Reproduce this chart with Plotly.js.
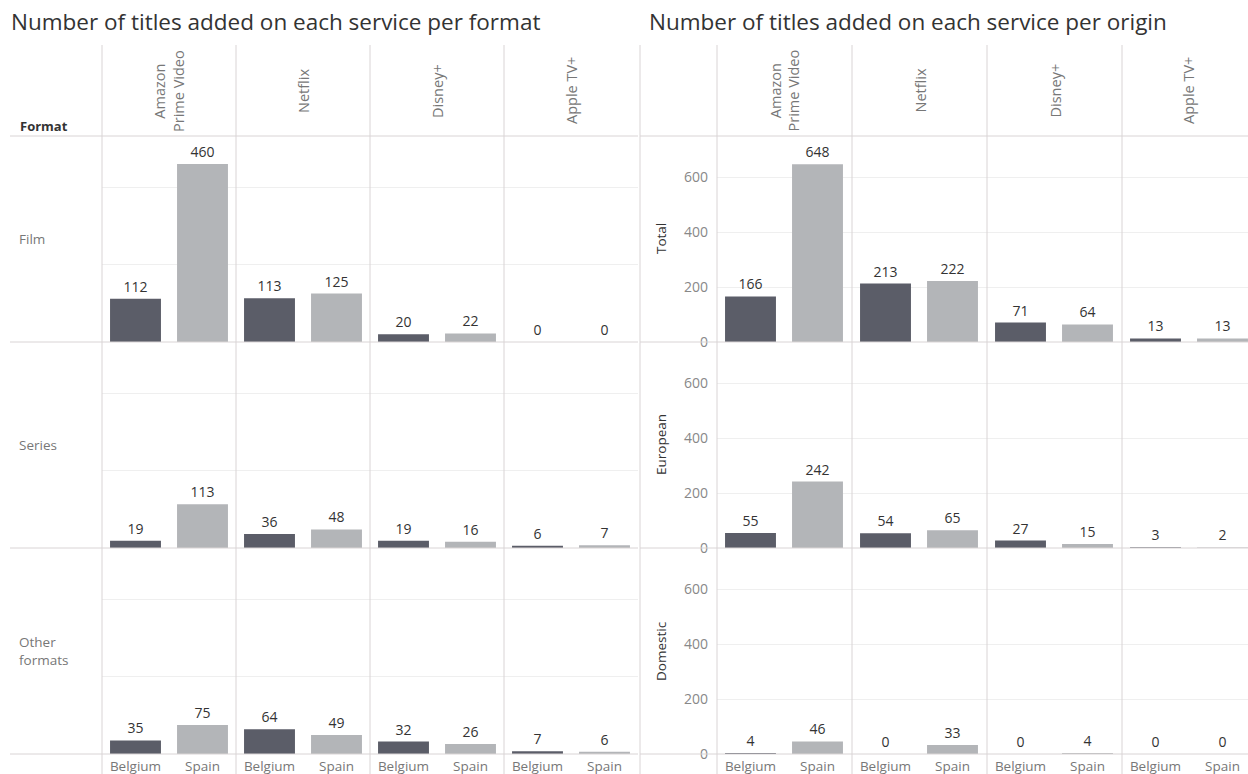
<!DOCTYPE html>
<html>
<head>
<meta charset="utf-8">
<script src="https://cdn.plot.ly/plotly-3.0.1.min.js"></script>
<style>html,body{margin:0;padding:0;background:#fff}#chart{width:1248px;height:774px}</style>
</head>
<body>
<div id="chart"></div>
<script>
// ---- data ----
const services = ['Amazon<br>Prime Video', 'Netflix', 'Disney+', 'Apple TV+'];
const countries = ['Belgium', 'Spain'];

const formatRows = ['Film', 'Series', 'Other<br>formats'];
const filmBelgium = [112, 113, 20, 0];
const filmSpain = [460, 125, 22, 0];
const seriesBelgium = [19, 36, 19, 6];
const seriesSpain = [113, 48, 16, 7];
const otherBelgium = [35, 64, 32, 7];
const otherSpain = [75, 49, 26, 6];

const originRows = ['Total', 'European', 'Domestic'];
const totalBelgium = [166, 213, 71, 13];
const totalSpain = [648, 222, 64, 13];
const europeanBelgium = [55, 54, 27, 3];
const europeanSpain = [242, 65, 15, 2];
const domesticBelgium = [4, 0, 0, 0];
const domesticSpain = [46, 33, 4, 0];

const titleLeft = 'Number of titles added on each service per format';
const titleRight = 'Number of titles added on each service per origin';
const formatHeader = 'Format';

// ---- layout helpers ----
const W = 1248, H = 774;
const fx = x => x / W;
const fy = y => 1 - y / H;
const DARK = '#5b5d68', LIGHT = '#b3b5b8';
const FONT = '"Open Sans", "Noto Sans", sans-serif';
const GRID = '#efefef', LINE = '#d9d4d5';

const panels = [
  {cols: [102, 236, 370, 504, 638], rows: [136, 342, 548, 754], ymax: 532,
   labels: formatRows, belgium: [filmBelgium, seriesBelgium, otherBelgium], spain: [filmSpain, seriesSpain, otherSpain], ticks: false},
  {cols: [717, 852, 987, 1122, 1248], rows: [136, 342, 548, 754], ymax: 751,
   labels: originRows, belgium: [totalBelgium, europeanBelgium, domesticBelgium], spain: [totalSpain, europeanSpain, domesticSpain], ticks: true}
];

const traces = [];
const layout = {
  width: W, height: H,
  margin: {l: 0, r: 0, t: 0, b: 0},
  paper_bgcolor: '#fff', plot_bgcolor: 'rgba(0,0,0,0)',
  showlegend: false,
  font: {family: FONT, color: '#555'},
  annotations: [], shapes: [],
  bargap: 0.24
};

let k = 0;
panels.forEach((p, pi) => {
  for (let r = 0; r < 3; r++) {
    for (let c = 0; c < 4; c++) {
      k++;
      const xa = 'xaxis' + k, ya = 'yaxis' + k;
      const x0 = p.cols[c], x1 = p.cols[c + 1];
      const y0 = p.rows[r], y1 = p.rows[r + 1];
      const vals = [p.belgium[r][c], p.spain[r][c]];
      traces.push({
        type: 'bar', x: countries, y: vals,
        xaxis: 'x' + k, yaxis: 'y' + k,
        marker: {color: [DARK, LIGHT]},
        text: vals.map(String), textposition: 'outside',
        textfont: {family: FONT, size: 14, color: '#333'},
        constraintext: 'none', cliponaxis: false,
        hoverinfo: 'x+y'
      });
      layout[xa] = {
        domain: [fx(x0), fx(x1)], anchor: 'y' + k,
        type: 'category', range: [-0.5, -0.5 + (x1 - x0) / 67],
        showgrid: false, zeroline: false, showline: false, ticks: '',
        showticklabels: r === 2, ticklabelstandoff: 2,
        tickfont: {family: FONT, size: 13.5, color: '#777'}
      };
      layout[ya] = {
        domain: [fy(y1), fy(y0)], anchor: 'x' + k,
        range: [0, p.ymax], tick0: 0, dtick: 200,
        showgrid: true, gridcolor: GRID, gridwidth: 1,
        zeroline: false, showline: false, ticks: '',
        showticklabels: p.ticks && c === 0,
        ticklabelstandoff: 8,
        tickfont: {family: FONT, size: 14, color: '#888'}
      };
    }
    // row labels
    const yc = (p.rows[r] + p.rows[r + 1]) / 2;
    if (pi === 0) {
      layout.annotations.push({xref: 'paper', yref: 'paper', x: fx(17), y: fy(yc), xanchor: 'left', yanchor: 'middle',
        text: p.labels[r], showarrow: false, align: 'left', font: {family: FONT, size: 13.5, color: '#777'}});
    } else {
      layout.annotations.push({xref: 'paper', yref: 'paper', x: fx(661), y: fy(yc), xanchor: 'center', yanchor: 'middle',
        text: p.labels[r], textangle: -90, showarrow: false, font: {family: FONT, size: 13.5, color: '#333'}});
    }
  }
  // column headers
  for (let c = 0; c < 4; c++) {
    const xc = (p.cols[c] + p.cols[c + 1]) / 2 + (pi === 1 && c === 3 ? 3 : 0);
    layout.annotations.push({xref: 'paper', yref: 'paper', x: fx(xc), y: fy(91), xanchor: 'center', yanchor: 'middle',
      text: services[c], textangle: -90, showarrow: false, align: 'center',
      font: {family: FONT, size: 14.5, color: '#777'}});
  }
  // horizontal row separators
  const hx0 = pi === 0 ? 10 : 640, hx1 = pi === 0 ? 638 : 1248;
  p.rows.forEach(y => layout.shapes.push({type: 'line', xref: 'paper', yref: 'paper',
    x0: fx(hx0), x1: fx(hx1), y0: fy(y), y1: fy(y), line: {color: LINE, width: 1}}));
  // vertical column separators
  const vx = pi === 0 ? p.cols.slice(0, 4) : [640].concat(p.cols.slice(0, 4));
  vx.forEach(x => layout.shapes.push({type: 'line', xref: 'paper', yref: 'paper',
    x0: fx(x), x1: fx(x), y0: fy(45), y1: fy(774), line: {color: LINE, width: 1}}));
});

// titles and header
layout.annotations.push({xref: 'paper', yref: 'paper', x: fx(9), y: fy(22), xanchor: 'left', yanchor: 'middle',
  text: titleLeft, showarrow: false, font: {family: FONT, size: 22.5, color: '#333'}});
layout.annotations.push({xref: 'paper', yref: 'paper', x: fx(647), y: fy(22), xanchor: 'left', yanchor: 'middle',
  text: titleRight, showarrow: false, font: {family: FONT, size: 22.5, color: '#333'}});
layout.annotations.push({xref: 'paper', yref: 'paper', x: fx(18), y: fy(126), xanchor: 'left', yanchor: 'middle',
  text: '<b>' + formatHeader + '</b>', showarrow: false, font: {family: FONT, size: 13, color: '#333'}});

Plotly.newPlot('chart', traces, layout, {displayModeBar: false, staticPlot: true});
</script>
</body>
</html>
